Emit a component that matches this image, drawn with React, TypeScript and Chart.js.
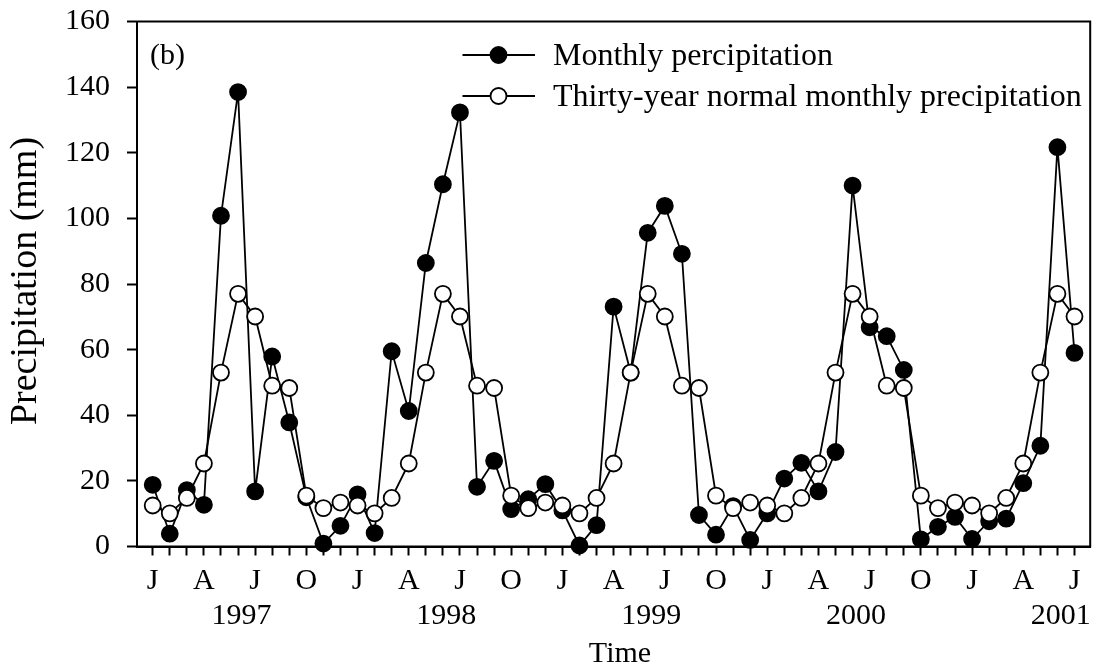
import React, { useEffect, useRef } from 'react';
import { Chart, registerables } from 'chart.js';

Chart.register(...registerables);

const FONT = "'Liberation Serif', 'Times New Roman', serif";

// Monthly index 0 = Jan 1997 ... 54 = Jul 2001
const monthlyPrecip = [
  18.8, 3.9, 17.2, 12.7, 100.8, 138.5, 16.8, 57.9, 37.8, 15.0, 0.9, 6.3,
  15.9, 4.1, 59.5, 41.3, 86.4, 110.4, 132.3, 18.2, 26.1, 11.4, 14.4, 19.0,
  11.0, 0.3, 6.5, 73.1, 53.0, 95.6, 103.8, 89.2, 9.6, 3.6, 12.3, 2.0,
  10.1, 20.7, 25.5, 16.8, 28.8, 110.0, 66.8, 64.1, 53.8, 2.2, 6.0, 9.0,
  2.3, 7.7, 8.5, 19.3, 30.7, 121.7, 59.0,
];

const normalPrecip = [
  12.5, 10.1, 14.8, 25.3, 53.0, 77.0, 70.1, 49.0, 48.3, 15.5, 11.7, 13.4,
  12.5, 10.1, 14.8, 25.3, 53.0, 77.0, 70.1, 49.0, 48.3, 15.5, 11.7, 13.4,
  12.5, 10.1, 14.8, 25.3, 53.0, 77.0, 70.1, 49.0, 48.3, 15.5, 11.7, 13.4,
  12.5, 10.1, 14.8, 25.3, 53.0, 77.0, 70.1, 49.0, 48.3, 15.5, 11.7, 13.4,
  12.5, 10.1, 14.8, 25.3, 53.0, 77.0, 70.1,
];

const quarterLetters = ['J', 'A', 'J', 'O'];
const yearLabels = ['1997', '1998', '1999', '2000', '2001'];
const yearPositions = [5.2, 17.2, 29.2, 41.2, 53.2];
const yTicks = [0, 20, 40, 60, 80, 100, 120, 140, 160];

const seriesNames = ['Monthly percipitation', 'Thirty-year normal monthly precipitation'];

const decorPlugin = {
  id: 'decor',
  afterDraw(chart: any) {
    const { ctx, chartArea: ca, scales } = chart;
    const x = scales.x;
    ctx.save();
    // frame
    ctx.strokeStyle = '#000';
    ctx.lineWidth = 2;
    ctx.strokeRect(ca.left, ca.top, ca.right - ca.left, ca.bottom - ca.top);

    ctx.fillStyle = '#000';
    // panel label
    ctx.font = `30px ${FONT}`;
    ctx.textAlign = 'left';
    ctx.textBaseline = 'alphabetic';
    ctx.fillText('(b)', 150, 64);

    // year labels
    ctx.textAlign = 'center';
    yearLabels.forEach((lab, i) => {
      ctx.fillText(lab, x.getPixelForValue(yearPositions[i]), 624);
    });

    // x title
    ctx.fillText('Time', 620, 661.5);

    // y title
    ctx.save();
    ctx.font = `38px ${FONT}`;
    ctx.translate(36, (ca.top + ca.bottom) / 2 - 3);
    ctx.rotate(-Math.PI / 2);
    ctx.textAlign = 'center';
    ctx.fillText('Precipitation (mm)', 0, 0);
    ctx.restore();

    // legend
    const rows = [
      { y: 55, fill: '#000' },
      { y: 96, fill: '#fff' },
    ];
    rows.forEach((r, i) => {
      ctx.beginPath();
      ctx.lineWidth = 1.8;
      ctx.strokeStyle = '#000';
      ctx.moveTo(462.5, r.y);
      ctx.lineTo(535, r.y);
      ctx.stroke();
      ctx.beginPath();
      ctx.arc(498.5, r.y, 8, 0, Math.PI * 2);
      ctx.fillStyle = r.fill;
      ctx.fill();
      ctx.stroke();
      ctx.fillStyle = '#000';
      ctx.font = `32px ${FONT}`;
      ctx.textAlign = 'left';
      ctx.textBaseline = 'alphabetic';
      ctx.fillText(seriesNames[i], 553, r.y + 9.5);
    });
    ctx.restore();
  },
};

export default function App() {
  const ref = useRef<HTMLCanvasElement>(null);
  useEffect(() => {
    document.body.style.margin = '0';
    const monthIdx = monthlyPrecip.map((_, i) => i);
    const chart = new Chart(ref.current as HTMLCanvasElement, {
      type: 'line',
      data: {
        datasets: [
          {
            label: seriesNames[1],
            data: normalPrecip.map((v, i) => ({ x: i, y: v })),
            borderColor: '#000',
            borderWidth: 1.8,
            pointRadius: 8,
            pointBackgroundColor: '#fff',
            pointBorderColor: '#000',
            pointBorderWidth: 1.8,
            tension: 0,
            clip: false,
            order: 1,
          },
          {
            label: seriesNames[0],
            data: monthlyPrecip.map((v, i) => ({ x: i, y: v })),
            borderColor: '#000',
            borderWidth: 1.8,
            pointRadius: 8,
            pointBackgroundColor: '#000',
            pointBorderColor: '#000',
            pointBorderWidth: 1.8,
            tension: 0,
            clip: false,
            order: 2,
          },
        ],
      },
      options: {
        animation: false,
        responsive: false,
        devicePixelRatio: 1,
        layout: { padding: { top: 21.5, right: 4, left: 0, bottom: 0 } },
        plugins: { legend: { display: false }, tooltip: { enabled: false } },
        scales: {
          x: {
            type: 'linear',
            min: -0.92,
            max: 54.92,
            afterBuildTicks: (s: any) => {
              s.ticks = monthIdx.map((v) => ({ value: v }));
            },
            afterFit: (s: any) => {
              s.height = 122.5;
              s.paddingLeft = 0;
              s.paddingRight = 0;
              s.paddingTop = 0;
              s.paddingBottom = 0;
            },
            grid: {
              display: true,
              drawOnChartArea: false,
              drawTicks: true,
              tickLength: 9,
              tickColor: '#000',
              tickWidth: 2,
              color: '#000',
            },
            border: { display: true, color: '#000', width: 2 },
            ticks: {
              autoSkip: false,
              maxRotation: 0,
              minRotation: 0,
              padding: 8,
              color: '#000',
              font: { family: FONT, size: 30 },
              callback: (v: any) => {
                const n = Math.round(Number(v));
                return n % 3 === 0 ? quarterLetters[(n / 3) % 4] : '';
              },
            },
          },
          y: {
            min: 0,
            max: 160,
            afterBuildTicks: (s: any) => {
              s.ticks = yTicks.map((v) => ({ value: v }));
            },
            afterFit: (s: any) => {
              s.width = 137;
              s.paddingLeft = 0;
              s.paddingRight = 0;
              s.paddingTop = 0;
              s.paddingBottom = 0;
            },
            grid: {
              display: true,
              drawOnChartArea: false,
              drawTicks: true,
              tickLength: 10,
              tickColor: '#000',
              tickWidth: 2,
              color: '#000',
            },
            border: { display: true, color: '#000', width: 2 },
            ticks: {
              padding: 17,
              color: '#000',
              font: { family: FONT, size: 30 },
            },
          },
        },
      },
      plugins: [decorPlugin],
    });
    return () => chart.destroy();
  }, []);
  return <canvas ref={ref} width={1100} height={669} style={{ display: 'block' }} />;
}
